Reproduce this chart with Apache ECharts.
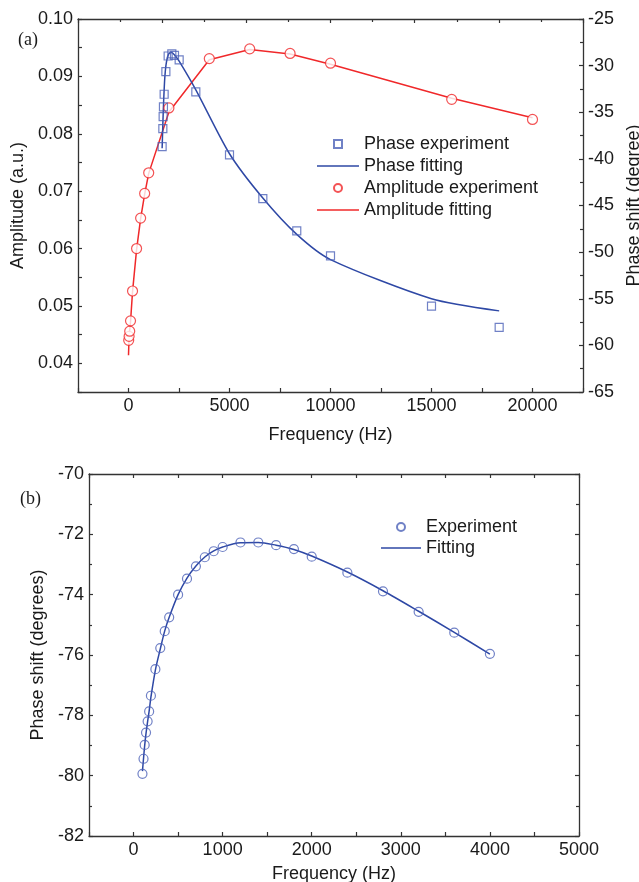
<!DOCTYPE html>
<html>
<head>
<meta charset="utf-8">
<script src="https://cdn.jsdelivr.net/npm/echarts@6/dist/echarts.min.js"></script>
<style>
  html, body { margin: 0; padding: 0; background: #fff; }
  #chart { width: 639px; height: 882px; }
</style>
</head>
<body>
<div id="chart"></div>
<script>
// (a) amplitude
var ampFreq = [10, 30, 60, 100, 200, 400, 600, 800, 1000, 2000, 4000, 6000, 8000, 10000, 16000, 20000];
var ampExp = [0.0440, 0.0447, 0.0456, 0.0474, 0.0526, 0.0600, 0.0653, 0.0696, 0.0732, 0.0845, 0.0931, 0.0948, 0.0940, 0.0923, 0.0860, 0.0825];
var ampFitFreq = [0, 30, 60, 100, 200, 400, 600, 800, 1000, 2000, 4000, 6000, 8000, 10000, 16000, 20000];
var ampFit = [0.0414, 0.0448, 0.0458, 0.0472, 0.0525, 0.0598, 0.0652, 0.0695, 0.0731, 0.0838, 0.0929, 0.0947, 0.0939, 0.0921, 0.0862, 0.0828];

// (a) phase
var phaseFreq = [1665, 1700, 1715, 1730, 1765, 1850, 1963, 2145, 2277, 2508, 3333, 5000, 6650, 8330, 10000, 15000, 18350];
var phaseExp = [-38.68, -36.76, -35.47, -34.43, -33.07, -30.65, -28.97, -28.75, -28.9, -29.39, -32.82, -39.58, -44.26, -47.72, -50.4, -55.79, -58.08];
var phaseFitFreq = [1665, 1700, 1740, 1800, 1880, 1990, 2130, 2280, 2500, 3333, 5000, 6650, 8330, 10000, 15000, 18350];
var phaseFit = [-38.85, -36.3, -33.8, -31.2, -29.6, -28.75, -28.6, -28.85, -29.5, -32.6, -39.45, -44.2, -48.1, -50.8, -55.0, -56.3];

// (b) phase vs frequency
var bFreq = [100, 112, 125, 140, 158, 175, 195, 245, 300, 350, 400, 500, 600, 700, 800, 900, 1000, 1200, 1400, 1600, 1800, 2000, 2400, 2800, 3200, 3600, 4000];
var bExp = [-79.94, -79.44, -78.98, -78.57, -78.2, -77.87, -77.35, -76.47, -75.77, -75.21, -74.75, -74.0, -73.47, -73.06, -72.76, -72.56, -72.42, -72.27, -72.27, -72.36, -72.49, -72.74, -73.27, -73.89, -74.57, -75.26, -75.96];
var bFit = [-79.85, -79.43, -79.0, -78.6, -78.2, -77.86, -77.4, -76.5, -75.8, -75.2, -74.75, -74.0, -73.45, -73.05, -72.75, -72.55, -72.42, -72.28, -72.27, -72.36, -72.5, -72.72, -73.25, -73.87, -74.55, -75.25, -75.97];

var RED = '#f0282a';
var BLUE = '#2e48a5';
var BLUE_MK = '#4c62b8';
var INK = '#1a1a1a';
var AXIS = '#333';
var FONT = "'Liberation Sans', Arial, sans-serif";
var LINE_ICON = 'path://M0,0L40,0L40,1.5L0,1.5Z';
var SQUARE_ICON = 'path://M0,0L8,0L8,8L0,8Z';

function pairs(xs, ys) {
  return xs.map(function (x, i) { return [x, ys[i]]; });
}

function axisBase(extra) {
  var a = {
    type: 'value',
    axisLine: { show: true, onZero: false, lineStyle: { color: AXIS, width: 1.3 } },
    axisTick: { show: true, inside: true, length: 4, lineStyle: { color: AXIS, width: 1.2 } },
    axisLabel: { color: INK, fontSize: 18, fontFamily: FONT, margin: 5 },
    splitLine: { show: false },
    nameTextStyle: { color: INK, fontSize: 18, fontFamily: FONT },
    nameLocation: 'middle'
  };
  for (var k in extra) a[k] = extra[k];
  return a;
}

var chart = echarts.init(document.getElementById('chart'));

var option = {
  backgroundColor: '#fff',
  animation: false,
  grid: [
    { left: 78, top: 19, width: 505, height: 373, outerBoundsMode: 'none', containLabel: false },
    { left: 89, top: 474, width: 490, height: 362, outerBoundsMode: 'none', containLabel: false }
  ],
  xAxis: [
    axisBase({
      gridIndex: 0, position: 'bottom', min: -2500, max: 22500, interval: 2500,
      name: 'Frequency (Hz)', nameGap: 34,
      axisLabel: { color: INK, fontSize: 18, fontFamily: FONT, margin: 5,
        formatter: function (v) { return v % 5000 === 0 ? String(v) : ''; } }
    }),
    axisBase({
      gridIndex: 0, position: 'top', min: 0, max: 12, interval: 2,
      axisLabel: { show: false },
      minorTick: { show: true, splitNumber: 2, length: 3, lineStyle: { color: AXIS, width: 1.2 } }
    }),
    axisBase({
      gridIndex: 1, position: 'bottom', min: -500, max: 5000, interval: 500,
      name: 'Frequency (Hz)', nameGap: 29,
      axisLabel: { color: INK, fontSize: 18, fontFamily: FONT, margin: 5,
        formatter: function (v) { return v % 1000 === 0 ? String(v) : ''; } }
    }),
    axisBase({
      gridIndex: 1, position: 'top', min: -500, max: 5000, interval: 500,
      axisLabel: { show: false }
    })
  ],
  yAxis: [
    axisBase({
      gridIndex: 0, position: 'left', min: 0.035, max: 0.10, interval: 0.005,
      name: 'Amplitude (a.u.)', nameGap: 46,
      axisLabel: { color: INK, fontSize: 18, fontFamily: FONT, margin: 5,
        formatter: function (v) {
          var h = v * 100;
          return (Math.abs(Math.round(h) - h) < 1e-6 && v > 0.036) ? v.toFixed(2) : '';
        } }
    }),
    axisBase({
      gridIndex: 0, position: 'right', min: -65, max: -25, interval: 5,
      name: 'Phase shift (degree)', nameGap: 37,
      minorTick: { show: true, splitNumber: 2, length: 3, lineStyle: { color: AXIS, width: 1.2 } }
    }),
    axisBase({
      gridIndex: 1, position: 'left', min: -82, max: -70, interval: 2,
      name: 'Phase shift (degrees)', nameGap: 35,
      minorTick: { show: true, splitNumber: 2, length: 3, lineStyle: { color: AXIS, width: 1.2 } }
    }),
    axisBase({
      gridIndex: 1, position: 'right', min: -82, max: -70, interval: 2,
      axisLabel: { show: false },
      minorTick: { show: true, splitNumber: 2, length: 3, lineStyle: { color: AXIS, width: 1.2 } }
    })
  ],
  legend: [
    {
      orient: 'vertical', left: 317, top: 135, padding: 0,
      itemWidth: 42, itemHeight: 8, itemGap: 4, symbolKeepAspect: true,
      textStyle: { color: INK, fontSize: 18, fontFamily: FONT, lineHeight: 18 },
      data: [
        { name: 'Phase experiment', icon: SQUARE_ICON },
        { name: 'Phase fitting', icon: LINE_ICON },
        { name: 'Amplitude experiment', icon: 'circle' },
        { name: 'Amplitude fitting', icon: LINE_ICON }
      ]
    },
    {
      orient: 'vertical', left: 381, top: 518, padding: 0,
      itemWidth: 40, itemHeight: 8, itemGap: 3, symbolKeepAspect: true,
      textStyle: { color: INK, fontSize: 18, fontFamily: FONT, lineHeight: 18 },
      data: [
        { name: 'Experiment', icon: 'circle' },
        { name: 'Fitting', icon: LINE_ICON }
      ]
    }
  ],
  graphic: [
    { type: 'text', left: 18, top: 31, style: { text: '(a)', fontSize: 18, fontFamily: "'Liberation Serif', 'Times New Roman', serif", fill: INK } },
    { type: 'text', left: 20, top: 490, style: { text: '(b)', fontSize: 18, fontFamily: "'Liberation Serif', 'Times New Roman', serif", fill: INK } }
  ],
  series: [
    {
      name: 'Amplitude fitting', type: 'line', xAxisIndex: 0, yAxisIndex: 0,
      data: pairs(ampFitFreq, ampFit), symbol: 'none',
      lineStyle: { color: RED, width: 1.5 }, itemStyle: { color: RED }, z: 2
    },
    {
      name: 'Amplitude experiment', type: 'scatter', xAxisIndex: 0, yAxisIndex: 0,
      data: pairs(ampFreq, ampExp), symbol: 'circle', symbolSize: 10,
      itemStyle: { color: '#fff', borderColor: RED, borderWidth: 1.2 }, z: 4
    },
    {
      name: 'Phase fitting', type: 'line', xAxisIndex: 0, yAxisIndex: 1,
      data: pairs(phaseFitFreq, phaseFit), symbol: 'none', smooth: 0.25,
      lineStyle: { color: BLUE, width: 1.5 }, itemStyle: { color: BLUE }, z: 3
    },
    {
      name: 'Phase experiment', type: 'scatter', xAxisIndex: 0, yAxisIndex: 1,
      data: pairs(phaseFreq, phaseExp), symbol: 'rect', symbolSize: 8,
      itemStyle: { color: 'rgba(255,255,255,0)', borderColor: BLUE_MK, borderWidth: 1.2 }, z: 5
    },
    {
      name: 'Fitting', type: 'line', xAxisIndex: 2, yAxisIndex: 2,
      data: pairs(bFreq, bFit), symbol: 'none', smooth: 0.3,
      lineStyle: { color: BLUE, width: 1.5 }, itemStyle: { color: BLUE }, z: 2
    },
    {
      name: 'Experiment', type: 'scatter', xAxisIndex: 2, yAxisIndex: 2,
      data: pairs(bFreq, bExp), symbol: 'circle', symbolSize: 9,
      itemStyle: { color: 'rgba(255,255,255,0)', borderColor: BLUE_MK, borderWidth: 1.2 }, z: 4
    }
  ]
};

chart.setOption(option);
</script>
</body>
</html>
